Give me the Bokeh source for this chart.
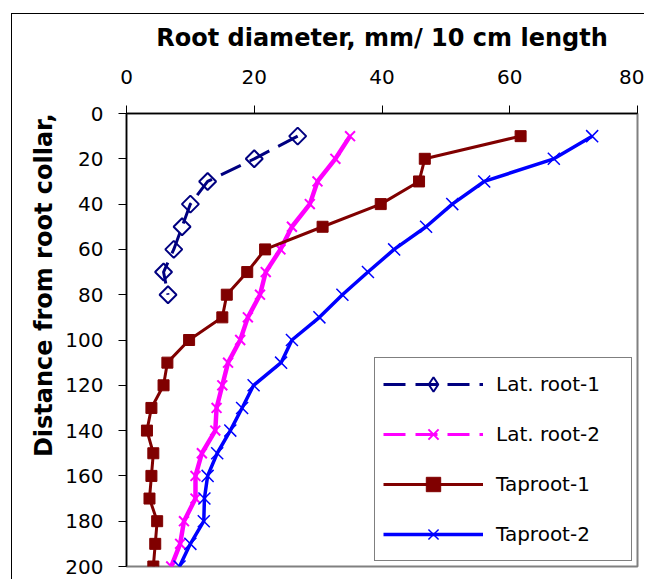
import numpy as np
from bokeh.plotting import figure
from bokeh.models import Range1d, FixedTicker, Legend, LegendItem, Title
from bokeh.embed import file_html
from bokeh.resources import INLINE

# ---- data ----
depth = [10, 20, 30, 40, 50, 60, 70, 80, 90, 100,
         110, 120, 130, 140, 150, 160, 170, 180, 190, 200]
lat1_depth = [10, 20, 30, 40, 50, 60, 70, 80]
lat1 = [26.8, 20.0, 12.7, 10.0, 8.7, 7.4, 5.8, 6.5]
lat2 = [35.0, 32.7, 29.9, 28.7, 25.9, 24.1, 21.8, 20.9, 19.0, 17.8,
        15.9, 15.0, 14.1, 13.9, 11.8, 10.8, 10.8, 9.0, 8.4, 7.0]
tap1 = [61.7, 46.7, 45.8, 39.8, 30.7, 21.7, 18.9, 15.7, 15.0, 9.8,
        6.4, 5.8, 3.9, 3.2, 4.2, 3.9, 3.6, 4.8, 4.5, 4.2]
tap2 = [72.9, 66.9, 56.0, 51.0, 46.9, 41.9, 37.8, 33.8, 30.2, 25.9,
        24.2, 19.9, 18.1, 16.25, 14.2, 12.7, 12.2, 12.1, 10.0, 8.3]
x_ticks = [0, 20, 40, 60, 80]
y_ticks = [0, 20, 40, 60, 80, 100, 120, 140, 160, 180, 200]
series_names = ["Lat. root-1", "Lat. root-2", "Taproot-1", "Taproot-2"]
x_title = "Root diameter, mm/ 10 cm length"
y_title = "Distance from root collar,"

FONT = "DejaVu Sans"

p = figure(width=633, height=566, output_backend="svg", toolbar_location=None,
           x_range=Range1d(0, 80), y_range=Range1d(200, 0),
           x_axis_location="above",
           min_border_left=114, min_border_top=99,
           min_border_right=8, min_border_bottom=14,
           styles={"margin-left": "11px", "margin-top": "13px",
                   "border-left": "1.5px solid black",
                   "border-top": "1.5px solid black"})
p.grid.visible = False
p.background_fill_color = "white"
p.border_fill_color = "white"
p.outline_line_color = "#808080"
p.outline_line_width = 2

for ax in (p.xaxis[0], p.yaxis[0]):
    ax.axis_line_color = "black"
    ax.axis_line_width = 1.5
    ax.major_tick_line_color = "black"
    ax.major_tick_line_width = 1
    ax.major_tick_out = 8
    ax.major_tick_in = 0
    ax.minor_tick_out = 0
    ax.minor_tick_in = 0
    ax.major_label_text_font = FONT
    ax.major_label_text_font_size = "20px"
    ax.major_label_text_color = "black"
p.xaxis[0].ticker = FixedTicker(ticks=x_ticks)
p.yaxis[0].ticker = FixedTicker(ticks=y_ticks)
p.xaxis[0].major_label_standoff = 22
p.yaxis[0].major_label_standoff = 15

p.xaxis[0].axis_label = x_title
p.xaxis[0].axis_label_text_font = FONT
p.xaxis[0].axis_label_text_font_style = "bold"
p.xaxis[0].axis_label_text_font_size = "24px"
p.xaxis[0].axis_label_text_color = "black"
p.xaxis[0].axis_label_standoff = 15

ytitle = Title(text=y_title, align="right", standoff=10,
               text_font=FONT, text_font_style="bold", text_font_size="24px",
               text_color="black")
p.add_layout(ytitle, "left")

# Lat. root-1
l1 = p.line(lat1, lat1_depth, line_color="#000080", line_width=3, line_dash="22 10")
m1 = p.scatter(lat1, lat1_depth, marker="square", angle=np.pi / 4, size=12,
               fill_color=None, line_color="#000080", line_width=2)
m1_leg = p.scatter([np.nan], [np.nan], marker="diamond", size=14,
                   fill_color=None, line_color="#000080", line_width=2)
# Lat. root-2
l2 = p.line(lat2, depth, line_color="#FF00FF", line_width=4.5)
l2_leg = p.line([np.nan, np.nan], [np.nan, np.nan], line_color="#FF00FF",
                line_width=3, line_dash="22 10")
m2 = p.scatter(lat2, depth, marker="x", size=14, line_color="#FF00FF", line_width=2)
# Taproot-1
l3 = p.line(tap1, depth, line_color="#800000", line_width=3)
m3 = p.scatter(tap1, depth, marker="square", size=11,
               fill_color="#800000", line_color="#800000")
# Taproot-2
l4 = p.line(tap2, depth, line_color="#0000FF", line_width=3.5)
m4 = p.scatter(tap2, depth, marker="x", size=17, line_color="#0000FF", line_width=1.5)

legend = Legend(items=[
    LegendItem(label=series_names[0], renderers=[l1, m1_leg]),
    LegendItem(label=series_names[1], renderers=[l2_leg, m2]),
    LegendItem(label=series_names[2], renderers=[l3, m3]),
    LegendItem(label=series_names[3], renderers=[l4, m4]),
], location=(248, 5), glyph_width=100, glyph_height=36, spacing=14,
    padding=8, label_standoff=13, label_width=127,
    label_text_font=FONT, label_text_font_size="20px", label_text_color="black",
    border_line_color="black", border_line_width=1,
    background_fill_color="white", background_fill_alpha=1.0)
p.add_layout(legend)

open("out.html", "w").write(file_html(p, INLINE))
